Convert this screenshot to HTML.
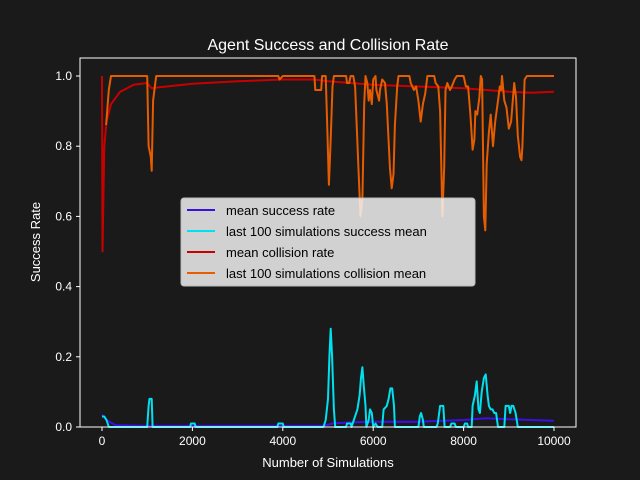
<!DOCTYPE html>
<html><head><meta charset="utf-8"><style>
body{margin:0;background:#1a1a1a;}
svg{display:block;font-family:"Liberation Sans","DejaVu Sans",sans-serif;}
</style></head><body>
<svg id="chart" width="640" height="480" viewBox="0 0 640 480">
<rect x="0" y="0" width="640" height="480" fill="#1a1a1a"/>
<text x="328" y="50" text-anchor="middle" font-size="16" fill="#fff">Agent Success and Collision Rate</text>
<g id="plot"></g>
<rect x="80" y="58" width="496" height="369" fill="none" stroke="#fff" stroke-width="1"/>
<g id="xt"></g>
<g id="yt"></g>
<text x="328" y="467" text-anchor="middle" font-size="13" fill="#fff">Number of Simulations</text>
<text transform="translate(40,242) rotate(-90)" text-anchor="middle" font-size="13" fill="#fff">Success Rate</text>
<g>
<rect x="181" y="198" width="294" height="88" rx="3" fill="#f2f2f2" fill-opacity="0.85" stroke="#bbb"/>
<g><line x1="187" y1="210" x2="215" y2="210" stroke="#3a10e5" stroke-width="2"/><text x="226" y="215" font-size="13" fill="#000">mean success rate</text></g>
<g><line x1="187" y1="231" x2="215" y2="231" stroke="#00e0f0" stroke-width="2"/><text x="226" y="236" font-size="13" fill="#000">last 100 simulations success mean</text></g>
<g><line x1="187" y1="252" x2="215" y2="252" stroke="#c80000" stroke-width="2"/><text x="226" y="257" font-size="13" fill="#000">mean collision rate</text></g>
<g><line x1="187" y1="273" x2="215" y2="273" stroke="#e65c00" stroke-width="2"/><text x="226" y="278" font-size="13" fill="#000">last 100 simulations collision mean</text></g>
</g>
</svg>
<script>
const xTicks=[0,2000,4000,6000,8000,10000];
const yTicks=[0.0,0.2,0.4,0.6,0.8,1.0];
const meanCollision=[[0,1.0],[10,0.5],[50,0.8],[100,0.87],[200,0.92],[400,0.955],[700,0.975],[1000,0.98],[1100,0.965],[1200,0.967],[2000,0.978],[3000,0.985],[4000,0.99],[4700,0.99],[5000,0.985],[6000,0.975],[7000,0.97],[8000,0.965],[9000,0.955],[9500,0.952],[10000,0.955]];
const lastCollision=[[90,0.86],[150,0.96],[200,1.0],[1000,1.0],[1030,0.8],[1080,0.77],[1100,0.73],[1130,0.93],[1160,0.96],[1200,1.0],[3900,1.0],[3930,0.99],[4000,1.0],[4700,1.0],[4720,0.96],[4850,0.96],[4870,1.0],[4950,1.0],[4980,0.87],[5020,0.69],[5060,0.82],[5100,0.97],[5130,1.0],[5400,1.0],[5420,0.98],[5470,0.98],[5500,1.0],[5560,1.0],[5600,0.97],[5680,0.72],[5720,0.6],[5760,0.65],[5800,0.92],[5830,1.0],[5870,0.98],[5900,0.93],[5930,0.96],[5970,0.92],[6000,0.99],[6050,1.0],[6070,0.96],[6130,0.93],[6150,0.96],[6200,0.99],[6260,0.98],[6300,0.92],[6370,0.74],[6410,0.68],[6450,0.72],[6480,0.86],[6530,0.97],[6560,1.0],[6800,1.0],[6830,0.98],[6900,0.96],[6950,0.97],[7000,0.93],[7050,0.87],[7100,0.92],[7150,0.95],[7200,1.0],[7350,1.0],[7380,0.98],[7440,0.97],[7480,0.9],[7530,0.6],[7570,0.74],[7600,0.96],[7640,0.98],[7700,0.96],[7740,0.97],[7800,0.99],[7850,1.0],[8000,1.0],[8050,0.97],[8100,0.97],[8150,0.89],[8200,0.79],[8240,0.82],[8260,0.9],[8300,0.89],[8350,0.94],[8380,1.0],[8410,0.99],[8450,0.6],[8480,0.56],[8510,0.75],[8560,0.84],[8600,0.89],[8650,0.8],[8700,0.87],[8760,0.93],[8800,0.97],[8830,0.96],[8850,1.0],[8900,0.93],[8950,0.91],[9000,0.85],[9050,0.87],[9120,0.98],[9160,0.94],[9200,0.83],[9250,0.77],[9280,0.76],[9300,0.8],[9350,0.99],[9400,1.0],[10000,1.0]];
const meanSuccess=[[0,0.035],[100,0.02],[300,0.005],[1000,0.003],[4900,0.003],[5100,0.01],[5500,0.013],[6000,0.015],[7000,0.015],[8000,0.02],[8500,0.025],[9000,0.022],[10000,0.018]];
const lastSuccess=[[0,0.03],[50,0.03],[100,0.02],[150,0],[1000,0],[1030,0.06],[1050,0.08],[1100,0.08],[1120,0],[1950,0],[1970,0.01],[2050,0.01],[2070,0],[3880,0],[3900,0.01],[4000,0.01],[4020,0],[4900,0],[4950,0.02],[5000,0.08],[5030,0.2],[5060,0.28],[5090,0.2],[5130,0.05],[5160,0],[5400,0],[5420,0.01],[5500,0.01],[5520,0],[5650,0.05],[5700,0.09],[5730,0.14],[5760,0.17],[5790,0.12],[5830,0.06],[5850,0],[5900,0.02],[5930,0.05],[5970,0.04],[6000,0],[6050,0.01],[6100,0],[6200,0],[6230,0.05],[6300,0.06],[6340,0.08],[6380,0.11],[6420,0.11],[6460,0.06],[6480,0],[7000,0],[7030,0.03],[7060,0.04],[7100,0.02],[7120,0],[7400,0],[7430,0.01],[7480,0.06],[7550,0.06],[7580,0],[7700,0],[7730,0.01],[7800,0.01],[7830,0],[8000,0],[8030,0.01],[8080,0.01],[8100,0],[8180,0],[8200,0.06],[8250,0.09],[8290,0.13],[8330,0.05],[8360,0.04],[8400,0.1],[8450,0.14],[8490,0.15],[8530,0.09],[8560,0.06],[8600,0.05],[8640,0.05],[8680,0.04],[8720,0.04],[8760,0],[8900,0],[8930,0.06],[9000,0.06],[9030,0.04],[9060,0.06],[9100,0.06],[9150,0.04],[9200,0],[10000,0]];
const NS="http://www.w3.org/2000/svg";
function xs(v){return 102+v*0.0452;}
function ys(v){return 427-v*351;}
const plot=document.getElementById('plot');
function line(data,color,name){
  const p=document.createElementNS(NS,'polyline');
  p.setAttribute('points',data.map(d=>xs(d[0]).toFixed(1)+','+ys(d[1]).toFixed(1)).join(' '));
  p.setAttribute('fill','none');p.setAttribute('stroke',color);p.setAttribute('stroke-width','2');
  p.setAttribute('stroke-linejoin','round');
  
  
  plot.appendChild(p);
}
line(meanSuccess,'#3a10e5','mean-success-line');
line(lastSuccess,'#00e0f0','last100-success-line');
line(meanCollision,'#c80000','mean-collision-line');
line(lastCollision,'#e65c00','last100-collision-line');
const xt=document.getElementById('xt');
xTicks.forEach(t=>{
  const g=document.createElementNS(NS,'g');
  
  
  const x=xs(t);
  g.innerHTML=`<line x1="${x}" y1="427" x2="${x}" y2="431" stroke="#fff"/><text x="${x}" y="445" text-anchor="middle" font-size="12" fill="#fff">${t}</text>`;
  xt.appendChild(g);
});
const yt=document.getElementById('yt');
yTicks.forEach(t=>{
  const g=document.createElementNS(NS,'g');
  
  
  const y=ys(t);
  g.innerHTML=`<line x1="76" y1="${y}" x2="80" y2="${y}" stroke="#fff"/><text x="72" y="${y+4}" text-anchor="end" font-size="12" fill="#fff">${t.toFixed(1)}</text>`;
  yt.appendChild(g);
});
</script>
</body></html>
